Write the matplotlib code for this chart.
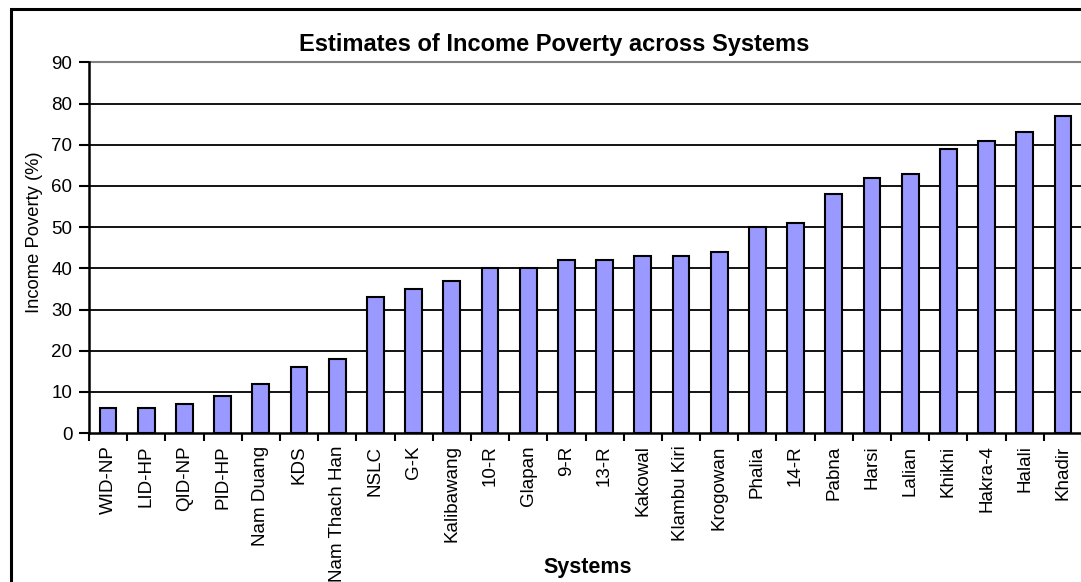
import matplotlib.pyplot as plt
from matplotlib.patches import Rectangle

systems = ["WID-NP", "LID-HP", "QID-NP", "PID-HP", "Nam Duang", "KDS", "Nam Thach Han",
           "NSLC", "G-K", "Kalibawang", "10-R", "Glapan", "9-R", "13-R", "Kakowal",
           "Klambu Kiri", "Krogowan", "Phalia", "14-R", "Pabna", "Harsi", "Lalian",
           "Khikhi", "Hakra-4", "Halali", "Khadir"]
poverty = [6, 6, 7, 9, 12, 16, 18, 33, 35, 37, 40, 40, 42, 42, 43, 43, 44, 50, 51, 58,
           62, 63, 69, 71, 73, 77]
yticks = [0, 10, 20, 30, 40, 50, 60, 70, 80, 90]

plt.rcParams['font.family'] = ['Liberation Sans', 'DejaVu Sans']

W, H = 1081, 582
fig = plt.figure(figsize=(W / 100, H / 100), dpi=100)
ax = fig.add_axes([89 / W, 1 - 433 / H, (1082 - 89) / W, (433 - 62.5) / H])

# outer chart border
fig.patches.append(Rectangle((11 / W, -0.1), 1.2, 1 - 9 / H + 0.1, transform=fig.transFigure,
                             fill=False, edgecolor='black', linewidth=2.2))

n = len(systems)
centers = [i + 0.5 for i in range(n)]
ax.bar(centers, poverty, width=0.44, color='#9999FF', edgecolor='black', linewidth=1.5, zorder=3)

ax.set_xlim(0, n)
ax.set_ylim(0, 90)
ax.set_yticks(yticks)
for v in yticks[1:-1]:
    ax.axhline(v, color='black', linewidth=1.3, zorder=1)
ax.axhline(90, color='#808080', linewidth=1.5, zorder=1, clip_on=False)

ax.set_xticks(range(n + 1))
ax.set_xticklabels([])
ax.set_xticks(centers, minor=True)
ax.set_xticklabels(systems, minor=True, rotation=90, fontsize=13.5)
ax.tick_params(axis='x', which='minor', length=0, pad=9)
ax.tick_params(axis='x', which='major', length=6, width=1.5, direction='out')
ax.tick_params(axis='y', length=7, width=1.5, labelsize=13.5, pad=5)

for s in ['top', 'right']:
    ax.spines[s].set_visible(False)
ax.spines['left'].set_linewidth(1.8)
ax.spines['bottom'].set_linewidth(1.8)

fig.text(35 / W, 1 - 232 / H, "Income Poverty (%)", ha='center', va='center', rotation=90, fontsize=13.2)
fig.text(588 / W, 1 - 568 / H, "Systems", ha='center', va='center', fontsize=15.5, fontweight='bold')
fig.text(554 / W, 1 - 44 / H, "Estimates of Income Poverty across Systems", ha='center', va='center',
         fontsize=17, fontweight='bold')

fig.savefig("out.png", dpi=100)
